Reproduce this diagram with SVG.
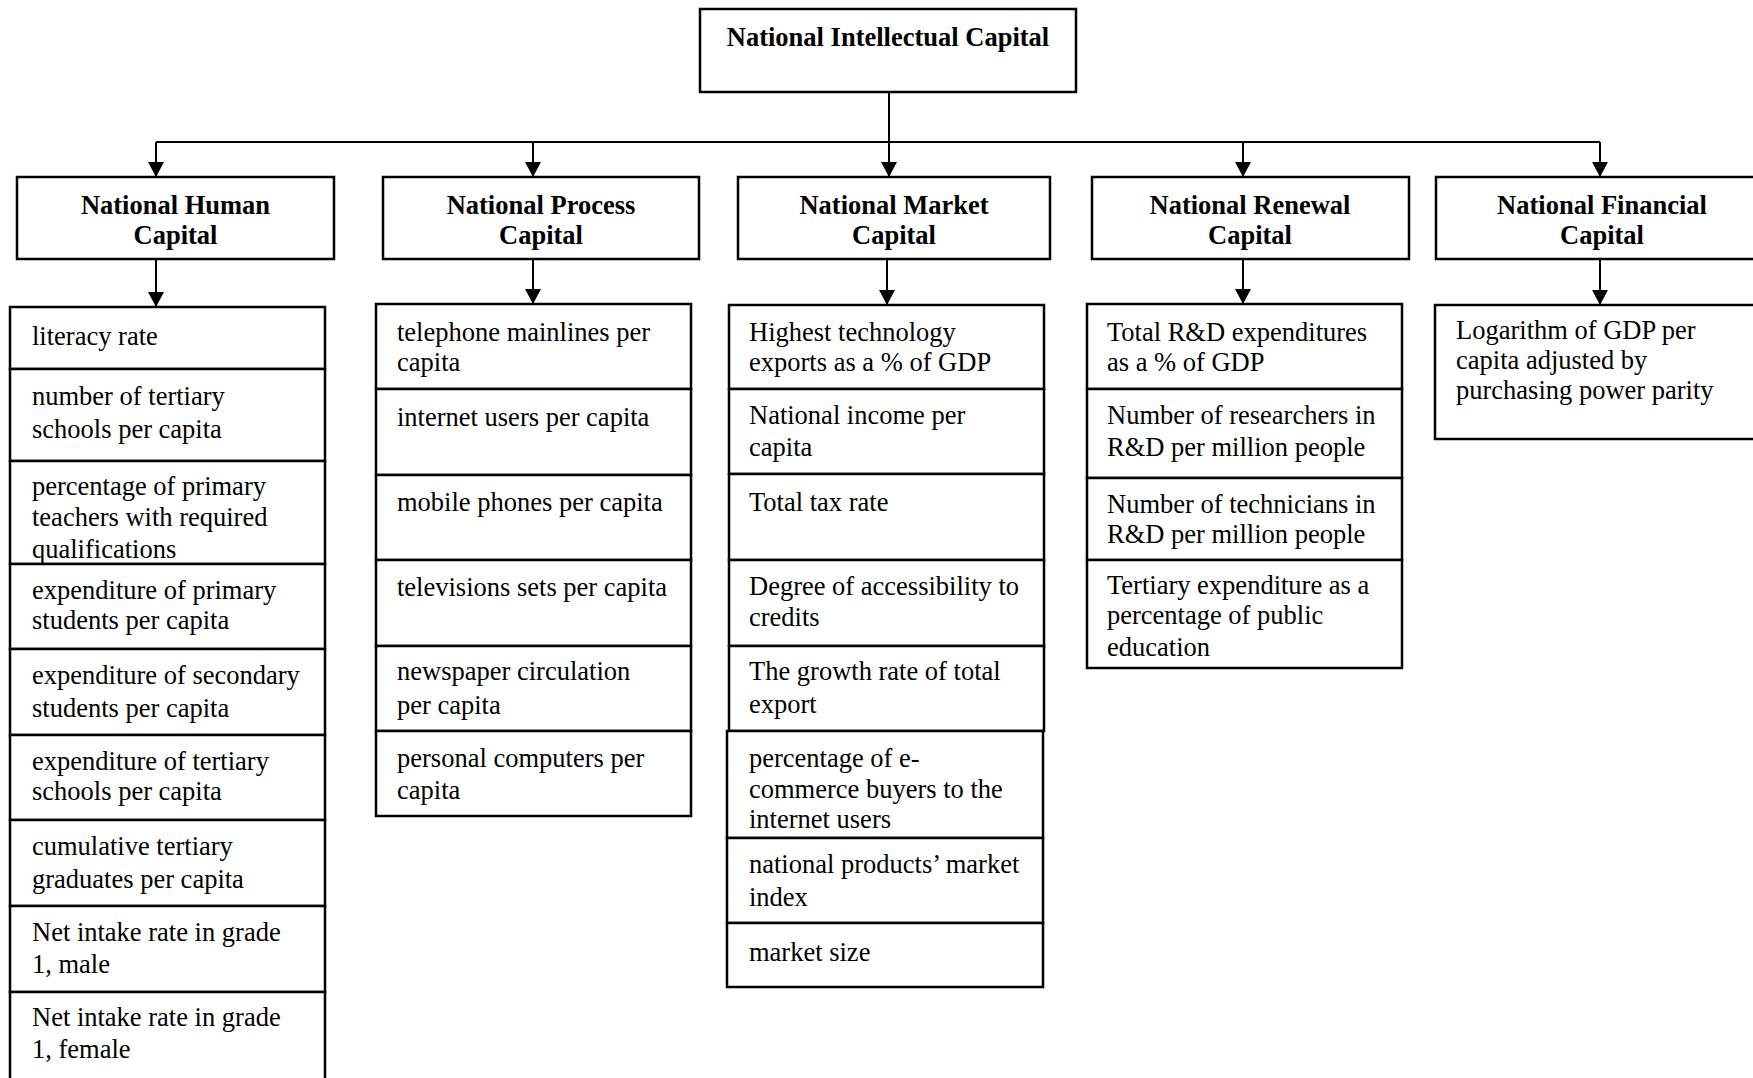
<svg xmlns="http://www.w3.org/2000/svg" width="1753" height="1078" viewBox="0 0 1753 1078">
<style>
rect{fill:#fff;stroke:#000;stroke-width:2.5}
text{font-family:"Liberation Serif","Times New Roman",serif;font-size:26.5px;fill:#000}
.h{font-weight:bold;text-anchor:middle}
.c{fill:none;stroke:#000;stroke-width:2}
</style>
<defs>
<marker id="ar" markerUnits="userSpaceOnUse" viewBox="0 0 15 16" refX="15" refY="8" markerWidth="15" markerHeight="16" orient="auto">
<path d="M0,0 L15,8 L0,16 z" fill="#000"/>
</marker>
</defs>
<g id="connectors">
<path class="c" d="M889,92 V177" marker-end="url(#ar)"/>
<path class="c" d="M156,142 H1600"/>
<path class="c" d="M156,142 V177" marker-end="url(#ar)"/>
<path class="c" d="M533,142 V177" marker-end="url(#ar)"/>
<path class="c" d="M1243,142 V177" marker-end="url(#ar)"/>
<path class="c" d="M1600,142 V177" marker-end="url(#ar)"/>
<path class="c" d="M156,259 V307" marker-end="url(#ar)"/>
<path class="c" d="M533,259 V304" marker-end="url(#ar)"/>
<path class="c" d="M887,259 V305" marker-end="url(#ar)"/>
<path class="c" d="M1243,259 V304" marker-end="url(#ar)"/>
<path class="c" d="M1600,259 V305" marker-end="url(#ar)"/>
</g>
<g id="root">
<rect x="700" y="9" width="376" height="83"/>
<text class="h" x="888" y="46">National Intellectual Capital</text>
</g>
<g id="human">
<rect x="17" y="177" width="317" height="82"/>
<text class="h" x="175.5" y="214">National Human</text>
<text class="h" x="175.5" y="244">Capital</text>
</g>
<g id="process">
<rect x="383" y="177" width="316" height="82"/>
<text class="h" x="541" y="214">National Process</text>
<text class="h" x="541" y="244">Capital</text>
</g>
<g id="market">
<rect x="738" y="177" width="312" height="82"/>
<text class="h" x="894" y="214">National Market</text>
<text class="h" x="894" y="244">Capital</text>
</g>
<g id="renewal">
<rect x="1092" y="177" width="317" height="82"/>
<text class="h" x="1250" y="214">National Renewal</text>
<text class="h" x="1250" y="244">Capital</text>
</g>
<g id="financial">
<rect x="1436" y="177" width="330" height="82"/>
<text class="h" x="1602" y="214">National Financial</text>
<text class="h" x="1602" y="244">Capital</text>
</g>
<g id="human-indicators">
<rect x="10" y="307" width="315" height="62"/>
<rect x="10" y="369" width="315" height="92"/>
<rect x="10" y="461" width="315" height="103"/>
<rect x="10" y="564" width="315" height="85"/>
<rect x="10" y="649" width="315" height="86"/>
<rect x="10" y="735" width="315" height="85"/>
<rect x="10" y="820" width="315" height="86"/>
<rect x="10" y="906" width="315" height="86"/>
<rect x="10" y="992" width="315" height="100"/>
<text x="32" y="345">literacy rate</text>
<text x="32" y="405">number of tertiary</text>
<text x="32" y="438">schools per capita</text>
<text x="32" y="495">percentage of primary</text>
<text x="32" y="526">teachers with required</text>
<text x="32" y="558">qualifications</text>
<text x="32" y="599">expenditure of primary</text>
<text x="32" y="629">students per capita</text>
<text x="32" y="684">expenditure of secondary</text>
<text x="32" y="717">students per capita</text>
<text x="32" y="770">expenditure of tertiary</text>
<text x="32" y="800">schools per capita</text>
<text x="32" y="855">cumulative tertiary</text>
<text x="32" y="888">graduates per capita</text>
<text x="32" y="941">Net intake rate in grade</text>
<text x="32" y="973">1, male</text>
<text x="32" y="1026">Net intake rate in grade</text>
<text x="32" y="1058">1, female</text>
</g>
<g id="process-indicators">
<rect x="376" y="304" width="315" height="85"/>
<rect x="376" y="389" width="315" height="86"/>
<rect x="376" y="475" width="315" height="85"/>
<rect x="376" y="560" width="315" height="86"/>
<rect x="376" y="646" width="315" height="85"/>
<rect x="376" y="731" width="315" height="85"/>
<text x="397" y="341">telephone mainlines per</text>
<text x="397" y="371">capita</text>
<text x="397" y="426">internet users per capita</text>
<text x="397" y="511">mobile phones per capita</text>
<text x="397" y="596">televisions sets per capita</text>
<text x="397" y="680">newspaper circulation</text>
<text x="397" y="714">per capita</text>
<text x="397" y="767">personal computers per</text>
<text x="397" y="799">capita</text>
</g>
<g id="market-indicators">
<rect x="729" y="305" width="315" height="84"/>
<rect x="729" y="389" width="315" height="85"/>
<rect x="729" y="474" width="315" height="86"/>
<rect x="729" y="560" width="315" height="86"/>
<rect x="729" y="646" width="315" height="85"/>
<rect x="727" y="731" width="316" height="107"/>
<rect x="727" y="838" width="316" height="85"/>
<rect x="727" y="923" width="316" height="64"/>
<text x="749" y="341">Highest technology</text>
<text x="749" y="371">exports as a % of GDP</text>
<text x="749" y="424">National income per</text>
<text x="749" y="456">capita</text>
<text x="749" y="511">Total tax rate</text>
<text x="749" y="595">Degree of accessibility to</text>
<text x="749" y="626">credits</text>
<text x="749" y="680">The growth rate of total</text>
<text x="749" y="713">export</text>
<text x="749" y="767">percentage of e-</text>
<text x="749" y="798">commerce buyers to the</text>
<text x="749" y="828">internet users</text>
<text x="749" y="873">national products’ market</text>
<text x="749" y="906">index</text>
<text x="749" y="961">market size</text>
</g>
<g id="renewal-indicators">
<rect x="1087" y="304" width="315" height="85"/>
<rect x="1087" y="389" width="315" height="89"/>
<rect x="1087" y="478" width="315" height="82"/>
<rect x="1087" y="560" width="315" height="108"/>
<text x="1107" y="341">Total R&amp;D expenditures</text>
<text x="1107" y="371">as a % of GDP</text>
<text x="1107" y="424">Number of researchers in</text>
<text x="1107" y="456">R&amp;D per million people</text>
<text x="1107" y="513">Number of technicians in</text>
<text x="1107" y="543">R&amp;D per million people</text>
<text x="1107" y="594">Tertiary expenditure as a</text>
<text x="1107" y="624">percentage of public</text>
<text x="1107" y="656">education</text>
</g>
<g id="financial-indicators">
<rect x="1435" y="305" width="330" height="134"/>
<text x="1456" y="339">Logarithm of GDP per</text>
<text x="1456" y="369">capita adjusted by</text>
<text x="1456" y="399">purchasing power parity</text>
</g>
</svg>
